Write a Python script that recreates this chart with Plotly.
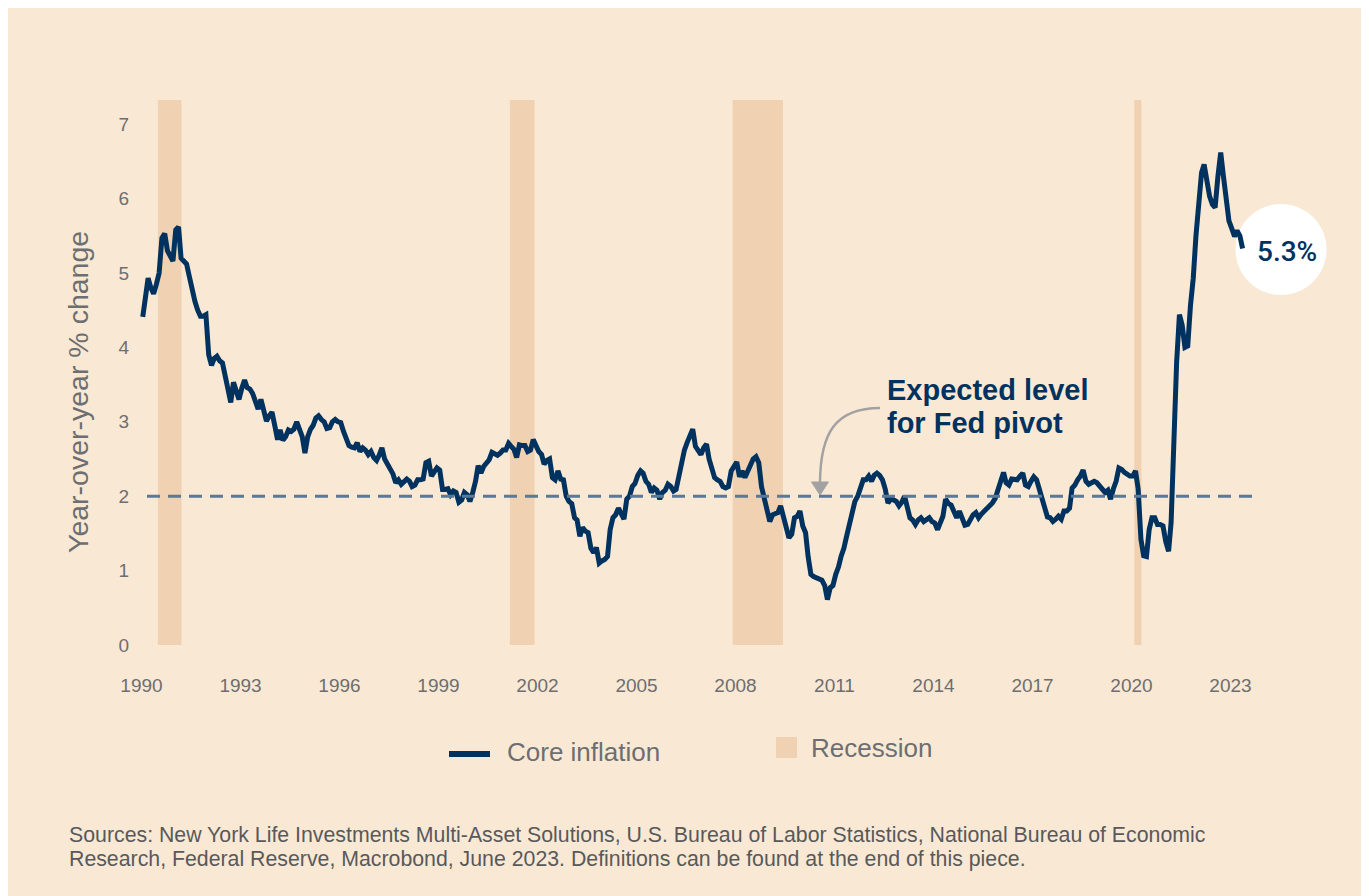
import plotly.graph_objects as go
import pandas as pd

# ---------------- data ----------------
years_ticks = [1990, 1993, 1996, 1999, 2002, 2005, 2008, 2011, 2014, 2017, 2020, 2023]
y_ticks = [0, 1, 2, 3, 4, 5, 6, 7]

core_1990 = [4.41, 4.65, 4.93, 4.8, 4.72, 4.85, 5.0, 5.47, 5.53, 5.3, 5.22, 5.16]
core_1991 = [5.58, 5.62, 5.2, 5.15, 5.12, 4.95, 4.75, 4.62, 4.5, 4.42, 4.42, 4.44]
core_1992 = [3.9, 3.76, 3.85, 3.88, 3.82, 3.79, 3.62, 3.42, 3.26, 3.53, 3.38, 3.3]
core_1993 = [3.45, 3.56, 3.46, 3.44, 3.38, 3.25, 3.17, 3.30, 3.15, 3.01, 3.08, 3.13]
core_1994 = [2.95, 2.76, 2.89, 2.75, 2.8, 2.89, 2.87, 2.9, 3.0, 2.9, 2.8, 2.58]
core_1995 = [2.8, 2.9, 2.95, 3.05, 3.08, 3.03, 3.0, 2.91, 2.92, 3.0, 3.03, 3.0]
core_1996 = [2.99, 2.87, 2.78, 2.68, 2.66, 2.65, 2.72, 2.6, 2.65, 2.62, 2.56, 2.6]
core_1997 = [2.52, 2.48, 2.55, 2.65, 2.5, 2.43, 2.38, 2.3, 2.18, 2.22, 2.16, 2.2]
core_1998 = [2.23, 2.2, 2.13, 2.15, 2.22, 2.22, 2.23, 2.45, 2.47, 2.27, 2.33, 2.38]
core_1999 = [2.35, 2.09, 2.09, 2.1, 2.02, 2.07, 2.05, 1.92, 1.95, 2.05, 2.02, 1.93]
core_2000 = [2.05, 2.2, 2.41, 2.31, 2.4, 2.46, 2.49, 2.59, 2.57, 2.55, 2.58, 2.62]
core_2001 = [2.62, 2.71, 2.67, 2.63, 2.52, 2.69, 2.68, 2.68, 2.6, 2.62, 2.76, 2.67]
core_2002 = [2.6, 2.56, 2.43, 2.48, 2.5, 2.25, 2.22, 2.34, 2.23, 2.22, 2.0, 1.93]
core_2003 = [1.9, 1.71, 1.68, 1.46, 1.58, 1.53, 1.51, 1.3, 1.24, 1.31, 1.1, 1.13]
core_2004 = [1.15, 1.19, 1.55, 1.71, 1.75, 1.84, 1.75, 1.69, 1.96, 2.0, 2.13, 2.17]
core_2005 = [2.28, 2.34, 2.31, 2.2, 2.16, 2.05, 2.11, 2.08, 1.96, 2.05, 2.08, 2.16]
core_2006 = [2.13, 2.07, 2.09, 2.3, 2.45, 2.62, 2.72, 2.8, 2.9, 2.67, 2.6, 2.56]
core_2007 = [2.65, 2.7, 2.5, 2.35, 2.25, 2.22, 2.2, 2.13, 2.11, 2.13, 2.34, 2.4]
core_2008 = [2.46, 2.26, 2.34, 2.25, 2.33, 2.41, 2.5, 2.53, 2.45, 2.13, 1.95, 1.8]
core_2009 = [1.66, 1.75, 1.76, 1.78, 1.87, 1.73, 1.55, 1.44, 1.49, 1.71, 1.73, 1.8]
core_2010 = [1.6, 1.51, 1.19, 0.95, 0.92, 0.9, 0.88, 0.87, 0.8, 0.61, 0.77, 0.8]
core_2011 = [0.95, 1.05, 1.19, 1.3, 1.46, 1.6, 1.75, 1.93, 2.0, 2.09, 2.22, 2.22]
core_2012 = [2.27, 2.2, 2.28, 2.31, 2.28, 2.22, 2.1, 1.91, 1.96, 1.95, 1.93, 1.87]
core_2013 = [1.92, 2.0, 1.85, 1.71, 1.68, 1.62, 1.68, 1.71, 1.66, 1.68, 1.71, 1.66]
core_2014 = [1.64, 1.55, 1.65, 1.73, 1.96, 1.9, 1.88, 1.8, 1.71, 1.8, 1.72, 1.61]
core_2015 = [1.62, 1.69, 1.75, 1.78, 1.71, 1.76, 1.8, 1.82, 1.87, 1.91, 1.97, 2.09]
core_2016 = [2.25, 2.32, 2.18, 2.15, 2.23, 2.22, 2.22, 2.27, 2.31, 2.15, 2.13, 2.2]
core_2017 = [2.26, 2.22, 2.09, 1.95, 1.8, 1.72, 1.71, 1.66, 1.69, 1.73, 1.69, 1.8]
core_2018 = [1.8, 1.84, 2.11, 2.15, 2.22, 2.27, 2.35, 2.2, 2.16, 2.18, 2.2, 2.18]
core_2019 = [2.13, 2.1, 2.05, 2.08, 1.96, 2.1, 2.2, 2.38, 2.36, 2.32, 2.3, 2.27]
core_2020 = [2.27, 2.34, 2.1, 1.42, 1.2, 1.19, 1.55, 1.71, 1.71, 1.62, 1.62, 1.6]
core_2021 = [1.39, 1.26, 1.65, 3.0, 3.8, 4.44, 4.3, 4.0, 4.02, 4.56, 4.93, 5.5]
core_2022 = [6.0, 6.35, 6.46, 6.2, 6.03, 5.92, 5.88, 6.3, 6.62, 6.3, 6.0, 5.7]
core_2023 = [5.6, 5.49, 5.57, 5.5, 5.33]

recession_starts = ["1990-07-01", "2001-03-01", "2007-12-01", "2020-02-01"]
recession_ends = ["1991-03-20", "2001-11-30", "2009-06-10", "2020-04-20"]

fed_target = 2.0
latest_label = "5.3%"

core_values = (core_1990 + core_1991 + core_1992 + core_1993 + core_1994 + core_1995 +
               core_1996 + core_1997 + core_1998 + core_1999 + core_2000 + core_2001 +
               core_2002 + core_2003 + core_2004 + core_2005 + core_2006 + core_2007 +
               core_2008 + core_2009 + core_2010 + core_2011 + core_2012 + core_2013 +
               core_2014 + core_2015 + core_2016 + core_2017 + core_2018 + core_2019 +
               core_2020 + core_2021 + core_2022 + core_2023)
# monthly observations, plotted at mid-month
dates = pd.date_range("1990-01-01", periods=len(core_values), freq="MS") + pd.Timedelta(days=14)

# ---------------- layout geometry (screen pixel reference, page offset 8px) ----------------
OFF = 8
FIG_W, FIG_H = 1369 - OFF, 896 - OFF
L_S, T_S = 133, 94            # plot-area top-left in screen pixels
PLOT_W, PLOT_H = 1157, 551
ML, MT = L_S - OFF, T_S - OFF
MR = FIG_W - ML - PLOT_W
MB = FIG_H - MT - PLOT_H
PX_PER_YEAR = 33.0
PX_PER_UNIT = 74.4
X1990_PX = 141.5

x_start = pd.Timestamp("1990-01-01") - pd.Timedelta(days=365.25 * (X1990_PX - L_S) / PX_PER_YEAR)
x_end = x_start + pd.Timedelta(days=365.25 * PLOT_W / PX_PER_YEAR)
y_top = PLOT_H / PX_PER_UNIT


def px(xp):
    return (xp - L_S) / PLOT_W


def py(yp):
    return (T_S + PLOT_H - yp) / PLOT_H


def xdate(xp):
    return x_start + pd.Timedelta(days=365.25 * (xp - L_S) / PX_PER_YEAR)


NAVY = "#00325f"
BG = "#f9e9d4"
BAND = "#f0d2b2"
GRAY_TXT = "#6d6e71"
DASH = "#5a7898"
ARROW = "#a2a2a2"
FONT = "Liberation Sans, Arial, sans-serif"

fig = go.Figure()
fig.add_trace(go.Scatter(
    x=dates, y=core_values, mode="lines",
    line=dict(color=NAVY, width=5),
    showlegend=False, hoverinfo="skip",
))

shapes = []
cx, cy, rr = 1281, 249.5, 45.5
shapes.append(dict(type="circle", xref="paper", yref="paper", layer="below",
                   x0=px(cx - rr), x1=px(cx + rr), y0=py(cy + rr), y1=py(cy - rr),
                   fillcolor="white", line=dict(width=0)))
for s, e in zip(recession_starts, recession_ends):
    shapes.append(dict(type="rect", xref="x", yref="y", layer="below",
                       x0=s, x1=e, y0=0, y1=(645 - 100) / PX_PER_UNIT,
                       fillcolor=BAND, line=dict(width=0)))
shapes.append(dict(type="line", xref="x", yref="y", layer="above",
                   x0=xdate(147), x1=xdate(1253), y0=fed_target, y1=fed_target,
                   line=dict(color=DASH, width=3, dash="13px,8px")))
path = "M {:.5f},{:.5f} C {:.5f},{:.5f} {:.5f},{:.5f} {:.5f},{:.5f}".format(
    px(880), py(408), px(836), py(408), px(820), py(432), px(820), py(484))
shapes.append(dict(type="path", xref="paper", yref="paper", layer="above",
                   path=path, line=dict(color=ARROW, width=2.5)))
tri = "M {:.5f},{:.5f} L {:.5f},{:.5f} L {:.5f},{:.5f} Z".format(
    px(811.5), py(482), px(828.5), py(482), px(820), py(495))
shapes.append(dict(type="path", xref="paper", yref="paper", layer="above",
                   path=tri, fillcolor=ARROW, line=dict(color=ARROW, width=1)))
shapes.append(dict(type="line", xref="paper", yref="paper", layer="above",
                   x0=px(449), x1=px(490), y0=py(754), y1=py(754),
                   line=dict(color=NAVY, width=6)))
shapes.append(dict(type="rect", xref="paper", yref="paper", layer="above",
                   x0=px(776), x1=px(797), y0=py(758), y1=py(737),
                   fillcolor=BAND, line=dict(width=0)))

annotations = []
annotations.append(dict(xref="paper", yref="paper", x=px(78), y=py(392),
                        text="Year-over-year % change", textangle=-90, showarrow=False,
                        font=dict(family=FONT, size=28.5, color=GRAY_TXT),
                        xanchor="center", yanchor="middle"))
annotations.append(dict(xref="paper", yref="paper", x=px(885), y=py(390),
                        text="<b>Expected level</b>", showarrow=False,
                        font=dict(family=FONT, size=29, color=NAVY),
                        xanchor="left", yanchor="middle"))
annotations.append(dict(xref="paper", yref="paper", x=px(885), y=py(423),
                        text="<b>for Fed pivot</b>", showarrow=False,
                        font=dict(family=FONT, size=29, color=NAVY),
                        xanchor="left", yanchor="middle"))
annotations.append(dict(xref="paper", yref="paper", x=px(1287), y=py(251),
                        text=latest_label, showarrow=False,
                        font=dict(family="Roboto, " + FONT, size=28, color=NAVY, weight=500),
                        xanchor="center", yanchor="middle"))
annotations.append(dict(xref="paper", yref="paper", x=px(505), y=py(752),
                        text="Core inflation", showarrow=False,
                        font=dict(family=FONT, size=26, color=GRAY_TXT),
                        xanchor="left", yanchor="middle"))
annotations.append(dict(xref="paper", yref="paper", x=px(809), y=py(748),
                        text="Recession", showarrow=False,
                        font=dict(family=FONT, size=26, color=GRAY_TXT),
                        xanchor="left", yanchor="middle"))
annotations.append(dict(xref="paper", yref="paper", x=px(67), y=py(835),
                        text="Sources: New York Life Investments Multi-Asset Solutions, U.S. Bureau of Labor Statistics, National Bureau of Economic",
                        showarrow=False, font=dict(family=FONT, size=21.3, color="#58595b"),
                        xanchor="left", yanchor="middle"))
annotations.append(dict(xref="paper", yref="paper", x=px(67), y=py(859),
                        text="Research, Federal Reserve, Macrobond, June 2023. Definitions can be found at the end of this piece.",
                        showarrow=False, font=dict(family=FONT, size=21.3, color="#58595b"),
                        xanchor="left", yanchor="middle"))

fig.update_layout(
    width=FIG_W, height=FIG_H,
    margin=dict(l=ML, r=MR, t=MT, b=MB, pad=0),
    paper_bgcolor=BG, plot_bgcolor="rgba(0,0,0,0)",
    shapes=shapes, annotations=annotations, showlegend=False,
    font=dict(family=FONT, color=GRAY_TXT),
)
fig.update_xaxes(
    type="date", range=[x_start, x_end],
    tickvals=[pd.Timestamp(f"{y}-01-01") for y in years_ticks],
    ticktext=[str(y) for y in years_ticks],
    showgrid=False, zeroline=False, showline=False, ticks="",
    tickfont=dict(family=FONT, size=19, color=GRAY_TXT),
    ticklabelstandoff=27, fixedrange=True,
)
fig.update_yaxes(
    range=[0, y_top], tickvals=y_ticks, ticktext=[str(v) for v in y_ticks],
    showgrid=False, zeroline=False, showline=False, ticks="",
    tickfont=dict(family=FONT, size=19, color=GRAY_TXT),
    ticklabelstandoff=3, fixedrange=True,
)

fig.write_html("out.html")
